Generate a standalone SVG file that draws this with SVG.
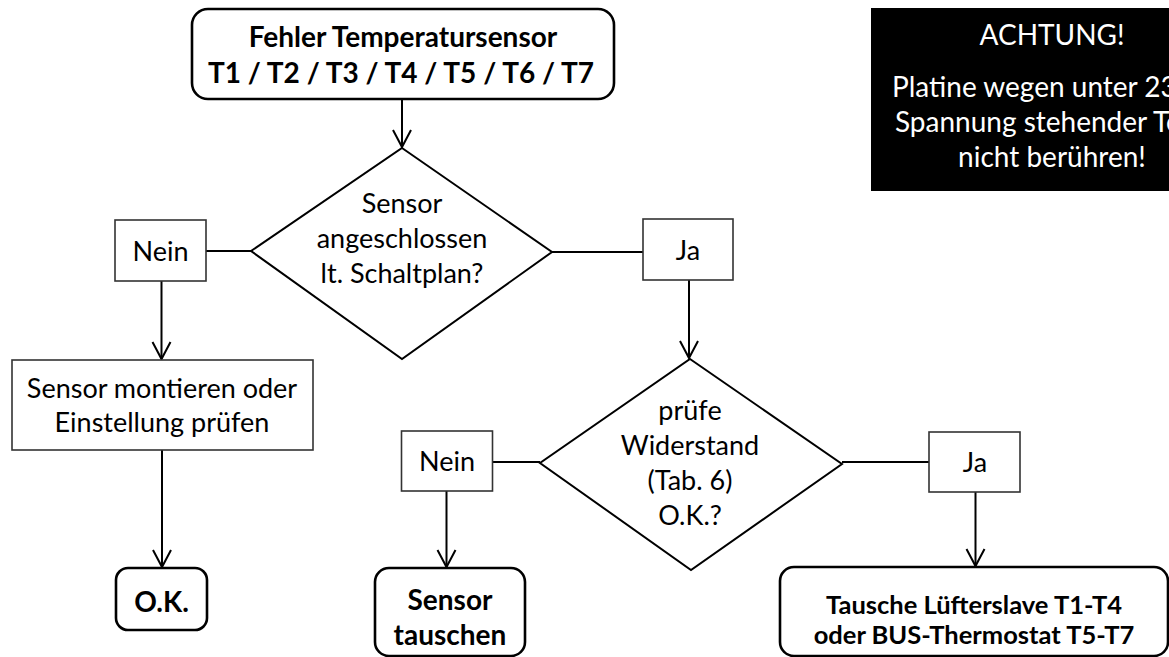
<svg xmlns="http://www.w3.org/2000/svg" width="1169" height="657" viewBox="0 0 1169 657">
  <defs>
    <style>
      text { font-family: Lato, "Open Sans", "Liberation Sans", sans-serif; font-size: 27px; fill: #000; text-anchor: middle; }
      .bold { font-weight: bold; font-size: 28px; }
      .small { font-size: 25.5px; }
      .warn { fill: #fff; font-size: 28px; }
      .term { fill: #fff; stroke: #000; stroke-width: 2.6; }
      .proc { fill: #fff; stroke: #333; stroke-width: 1.6; }
      .dec { fill: #fff; stroke: #000; stroke-width: 2; }
      .conn { fill: none; stroke: #000; stroke-width: 2; }
    </style>
    <marker id="arrow" markerUnits="userSpaceOnUse" markerWidth="40" markerHeight="40" refX="0" refY="0" orient="auto" overflow="visible">
      <path d="M-17,-9 L0,0 L-17,9" fill="none" stroke="#000" stroke-width="2"/>
    </marker>
  </defs>

  <rect width="1169" height="657" fill="#fff"/>

  <!-- connectors -->
  <g id="connectors" class="conn">
    <line x1="402" y1="99" x2="402" y2="147" marker-end="url(#arrow)"/>
    <line x1="206" y1="251" x2="251" y2="251"/>
    <line x1="552" y1="252" x2="643" y2="252"/>
    <line x1="161.5" y1="281" x2="161.5" y2="359" marker-end="url(#arrow)"/>
    <line x1="162" y1="450" x2="162" y2="567" marker-end="url(#arrow)"/>
    <line x1="689" y1="280" x2="689" y2="358" marker-end="url(#arrow)"/>
    <line x1="492.5" y1="462" x2="540" y2="462"/>
    <line x1="842" y1="462" x2="929" y2="462"/>
    <line x1="446.5" y1="491" x2="446.5" y2="567" marker-end="url(#arrow)"/>
    <line x1="975.5" y1="492" x2="975.5" y2="566" marker-end="url(#arrow)"/>
  </g>

  <!-- start -->
  <g id="start">
    <rect class="term" x="192" y="9" width="422" height="90" rx="16"/>
    <text class="bold" x="403" y="47">Fehler Temperatursensor</text>
    <text class="bold" x="401" y="83">T1 / T2 / T3 / T4 / T5 / T6 / T7</text>
  </g>

  <!-- warning panel -->
  <g id="warning">
    <rect x="871" y="8" width="362" height="183" fill="#000"/>
    <text class="warn" x="1052" y="45">ACHTUNG!</text>
    <text class="warn" x="1052" y="97">Platine wegen unter 230V</text>
    <text class="warn" x="1052" y="132">Spannung stehender Teile</text>
    <text class="warn" x="1052" y="167">nicht berühren!</text>
  </g>

  <!-- decision: connected -->
  <g id="check-connected">
    <polygon class="dec" points="402,148 552,252 402,359 251,251"/>
    <text x="402" y="213">Sensor</text>
    <text x="402" y="248">angeschlossen</text>
    <text x="402" y="283">lt. Schaltplan?</text>
  </g>

  <g id="no-1">
    <rect class="proc" x="115" y="220" width="91" height="61"/>
    <text x="160.5" y="261">Nein</text>
  </g>

  <g id="yes-1">
    <rect class="proc" x="643" y="219" width="90" height="61"/>
    <text x="688" y="260">Ja</text>
  </g>

  <g id="mount-sensor">
    <rect class="proc" x="12" y="360" width="301" height="90"/>
    <text x="162" y="398">Sensor montieren oder</text>
    <text x="162" y="432">Einstellung prüfen</text>
  </g>

  <g id="ok">
    <rect class="term" x="116" y="568" width="91" height="62" rx="12"/>
    <text class="bold" x="161.5" y="612">O.K.</text>
  </g>

  <!-- decision: resistance -->
  <g id="check-resistance">
    <polygon class="dec" points="690,359 842,464 691,570 540,463"/>
    <text x="690" y="420">prüfe</text>
    <text x="690" y="455">Widerstand</text>
    <text x="690" y="490">(Tab. 6)</text>
    <text x="690" y="525">O.K.?</text>
  </g>

  <g id="no-2">
    <rect class="proc" x="401.5" y="431" width="91" height="60"/>
    <text x="447" y="471">Nein</text>
  </g>

  <g id="yes-2">
    <rect class="proc" x="929" y="432" width="91" height="60"/>
    <text x="975" y="472">Ja</text>
  </g>

  <g id="replace-sensor">
    <rect class="term" x="375" y="568" width="150" height="88" rx="14"/>
    <text class="bold" x="450" y="610">Sensor</text>
    <text class="bold" x="450" y="645">tauschen</text>
  </g>

  <g id="replace-board">
    <rect class="term" x="780" y="567" width="388" height="89" rx="14"/>
    <text class="bold small" x="974" y="614">Tausche Lüfterslave T1-T4</text>
    <text class="bold small" x="974" y="644">oder BUS-Thermostat T5-T7</text>
  </g>
</svg>
